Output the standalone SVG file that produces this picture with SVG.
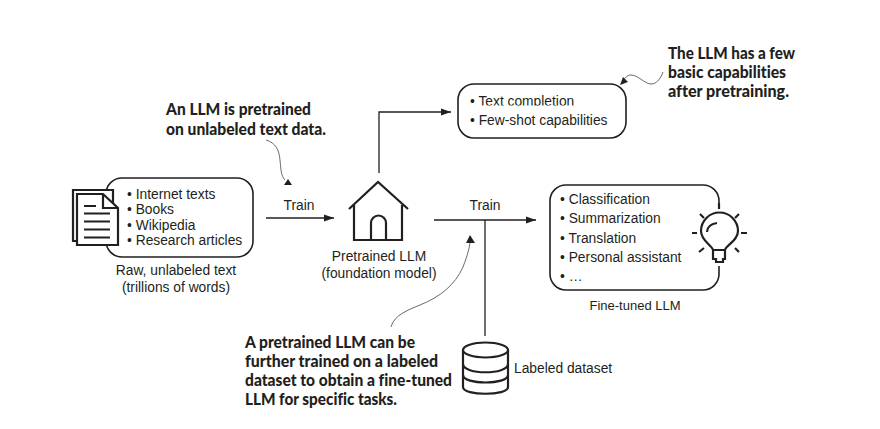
<svg xmlns="http://www.w3.org/2000/svg" width="880" height="429" viewBox="0 0 880 429">
<style>
text{font-family:"Liberation Sans",Arial,sans-serif;font-size:13.8px;fill:#231f20}
.m{text-anchor:middle}
text.note{font-family:Lato,"Noto Sans",sans-serif;font-weight:900;font-size:17px;fill:#231f20;font-variant-ligatures:none}
.box{fill:#fff;stroke:#231f20;stroke-width:1.6}
.ic{fill:#fff;stroke:#231f20;stroke-width:2.200;stroke-linejoin:miter}
.open{fill:none;stroke:#231f20;stroke-width:2.200}
.ln{fill:none;stroke:#231f20;stroke-width:1.300}
.th{fill:none;stroke:#444;stroke-width:.8}
.head{fill:#231f20}
</style>
<defs>
<marker id="a" markerUnits="userSpaceOnUse" markerWidth="11" markerHeight="8" refX="10" refY="4" orient="auto"><path d="M0 .5L10 4L0 7.500z" fill="#231f20"/></marker>
<clipPath id="c"><rect x="465" y="85" width="130" height="20.500"/></clipPath>
</defs>
<rect width="880" height="429" fill="#fff"/>
<g id="raw-text">
<rect class="box" x="106" y="178" width="147" height="79" rx="16"/>
<path class="ic" d="M73 190H113V241H73z"/>
<path class="ic" d="M77 194H103L118 208V245H77z"/>
<path class="open" d="M103 194V208H118"/>
<path class="open" stroke-width="1.800" d="M84 206H96M84 213.500H110M84 221.500H110M84 229.500H110M84 237.500H110"/>
<text x="127" y="198.500">• Internet texts</text>
<text x="127" y="214">• Books</text>
<text x="127" y="229.500">• Wikipedia</text>
<text x="127" y="245">• Research articles</text>
<text class="m" x="176" y="275">Raw, unlabeled text</text>
<text class="m" x="176" y="292">(trillions of words)</text>
</g>
<g id="pretrained-llm">
<path class="open" d="M349 209L378 182L408 209M354 205V240H402V205"/>
<path class="open" d="M371 240V223A7.500 7.500 0 0 1 386 223V240"/>
<text class="m" x="379" y="261">Pretrained LLM</text>
<text class="m" x="379" y="278">(foundation model)</text>
</g>
<g id="capabilities">
<rect class="box" x="458" y="84" width="168" height="54" rx="16"/>
<text x="470" y="106" clip-path="url(#c)">• Text completion</text>
<text x="470" y="124.500">• Few-shot capabilities</text>
</g>
<g id="fine-tuned-llm">
<path class="box" fill="none" d="M719 205V201A16 16 0 0 0 703 185H566A16 16 0 0 0 550 201V274A16 16 0 0 0 566 290H703A16 16 0 0 0 719 274V266"/>
<text x="560" y="204">• Classification</text>
<text x="560" y="223">• Summarization</text>
<text x="560" y="242.500">• Translation</text>
<text x="560" y="262">• Personal assistant</text>
<text x="560" y="281">• …</text>
<text class="m" x="635" y="310" style="font-size:13px">Fine-tuned LLM</text>
<path class="open" d="M713 250C712 245 701 241 701 231A18.500 18.500 0 0 1 738 231C738 241 726 245 725 250zM713 250V259H716V262H723V259H725V250"/>
<path class="open" stroke-width="1.800" d="M707 232C707 227 711 224 717 223M719 203V209M700 214L704 218M739 214L735 218M692 233H697M741 233H747M699 252L704 248M739 252L735 248"/>
</g>
<g id="labeled-dataset">
<path class="ic" d="M463 350V387C463 396 508 396 508 387V350"/>
<ellipse class="ic" cx="485.500" cy="350" rx="22.500" ry="7.500"/>
<path class="open" d="M463 364C463 375 508 375 508 364M463 375C463 385 508 385 508 375"/>
<text x="514" y="373">Labeled dataset</text>
</g>
<g id="connectors">
<path class="ln" marker-end="url(#a)" d="M266 218H334"/>
<path class="ln" marker-end="url(#a)" d="M379 173V112H451"/>
<path class="ln" marker-end="url(#a)" d="M434 220H536"/>
<path class="ln" d="M485 220V336"/>
<path class="th" d="M391 327C394 315 408 310 420 305C440 297 455 285 463 267C468 254 470 246 470 240"/>
<path class="head" d="M470 235L466 243H475z"/>
<path class="th" d="M266 140C276 143 279 150 280 160C281 170 281 176 285 180"/>
<path class="head" d="M288 179L284 185H292z"/>
<path class="th" d="M663 72C660 80 656 84 651 84C645 84 638 75 631 75C627 75 625 78 623 81"/>
<path class="head" d="M620 85L623 77L628 82z"/>
<text class="m" x="299" y="210">Train</text>
<text class="m" x="485" y="210">Train</text>
</g>
<g id="notes">
<text class="note" x="166" y="115" textLength="145" lengthAdjust="spacingAndGlyphs">An LLM is pretrained</text>
<text class="note" x="166" y="135" textLength="160" lengthAdjust="spacingAndGlyphs">on unlabeled text data.</text>
<text class="note" x="668" y="59" textLength="127" lengthAdjust="spacingAndGlyphs">The LLM has a few</text>
<text class="note" x="668" y="78" textLength="118" lengthAdjust="spacingAndGlyphs">basic capabilities</text>
<text class="note" x="668" y="97" textLength="121" lengthAdjust="spacingAndGlyphs">after pretraining.</text>
<text class="note" x="245" y="348" textLength="170" lengthAdjust="spacingAndGlyphs">A pretrained LLM can be</text>
<text class="note" x="245" y="367" textLength="193" lengthAdjust="spacingAndGlyphs">further trained on a labeled</text>
<text class="note" x="245" y="386" textLength="207" lengthAdjust="spacingAndGlyphs">dataset to obtain a fine-tuned</text>
<text class="note" x="245" y="405" textLength="152" lengthAdjust="spacingAndGlyphs">LLM for specific tasks.</text>
</g>
</svg>
